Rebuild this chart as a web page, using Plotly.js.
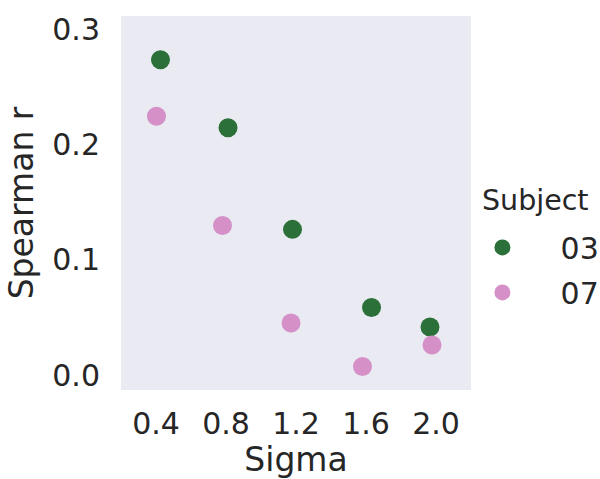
<!DOCTYPE html>
<html>
<head>
<meta charset="utf-8">
<script src="https://cdn.plot.ly/plotly-3.0.1.min.js"></script>
<style>html,body{margin:0;padding:0;background:#fff;}#chart{width:600px;height:479px;}</style>
</head>
<body>
<div id="chart"></div>
<script>
// Categories (Sigma)
const sigmaLabels = ["0.4", "0.8", "1.2", "1.6", "2.0"];
// Spearman r values per subject
const subject03 = [0.2734, 0.2144, 0.1263, 0.0586, 0.0417];
const subject07 = [0.2243, 0.1297, 0.0451, 0.0074, 0.0260];
// strip-plot jitter (category units)
const jitter03 = [0.064, 0.029, -0.05, 0.079, -0.086];
const jitter07 = [0.007, -0.05, -0.071, -0.05, -0.057];
const subjectNames = ["03", "07"];
const legendTitle = "Subject";
const yTicks = [0.0, 0.1, 0.2, 0.3];
const yTickText = ["0.0", "0.1", "0.2", "0.3"];

const idx = sigmaLabels.map((_, i) => i);
const font = "DejaVu Sans, sans-serif";
const textColor = "#262626";
const pad = "\u00a0\u00a0\u00a0\u00a0";

const traces = [
  {x: idx.map((i) => i + jitter03[i]), y: subject03, name: pad + subjectNames[0], legendgroup: "a",
   type: "scatter", mode: "markers", marker: {color: "#2b7038", size: 19}},
  {x: idx.map((i) => i + jitter07[i]), y: subject07, name: pad + subjectNames[1], legendgroup: "b",
   type: "scatter", mode: "markers", marker: {color: "#d590c8", size: 19}}
];

const layout = {
  width: 600, height: 479,
  margin: {l: 121, r: 129, t: 16, b: 89, pad: 0, autoexpand: false},
  paper_bgcolor: "#ffffff",
  plot_bgcolor: "#EAEAF2",
  font: {family: font, color: textColor, size: 30},
  showlegend: true,
  xaxis: {
    range: [-0.5, 4.5], tickvals: idx, ticktext: sigmaLabels,
    showgrid: false, zeroline: false, showline: false,
    ticks: "outside", ticklen: 7, tickcolor: "rgba(0,0,0,0)",
    tickfont: {size: 30, color: textColor},
    title: {text: "Sigma", font: {size: 33, color: textColor}, standoff: 11}
  },
  yaxis: {
    range: [-0.013, 0.3113], tickvals: yTicks, ticktext: yTickText,
    showgrid: false, zeroline: false, showline: false,
    ticks: "outside", ticklen: 14, tickcolor: "rgba(0,0,0,0)",
    tickfont: {size: 30, color: textColor},
    title: {text: "Spearman r", font: {size: 33, color: textColor}, standoff: 8}
  },
  legend: {
    xref: "container", x: 0.804, xanchor: "left",
    yref: "paper", y: 0.321, yanchor: "middle",
    bgcolor: "rgba(0,0,0,0)",
    font: {size: 30, color: textColor},
    traceorder: "grouped", tracegroupgap: 3, itemwidth: 30
  },
  annotations: [{
    text: legendTitle, xref: "paper", yref: "paper", x: 1.026, y: 0.508,
    xanchor: "left", yanchor: "middle", showarrow: false,
    font: {size: 28.5, color: textColor}
  }]
};

Plotly.newPlot("chart", traces, layout, {displayModeBar: false, staticPlot: true});
</script>
</body>
</html>
